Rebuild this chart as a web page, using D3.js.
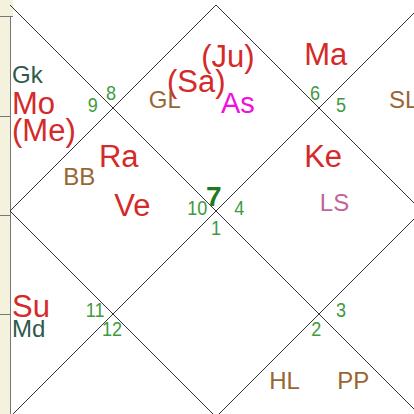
<!DOCTYPE html>
<html><head><meta charset="utf-8">
<script src="https://cdn.jsdelivr.net/npm/d3@7/dist/d3.min.js"></script>
<style>html,body{margin:0;padding:0;background:#fff;overflow:hidden}svg{display:block}</style>
</head><body>
<script>
// Data
const houses = [1,2,3,4,5,6,7,8,9,10,11,12];
const signs  = [7,8,9,10,11,12,1,2,3,4,5,6];   // sign number in each house
const ascHouseSign = 7;
const bodies  = ["Gk","Mo","(Me)","BB","Ra","Ve","Su","Md","(Sa)","(Ju)","As","GL","Ma","SL","Ke","LS","HL","PP"];
const bodyHouse = [3,3,3,4,4,4,5,5,1,1,1,1,12,11,10,10,8,8];
const bodyKind  = ["up","planet","planet","special","planet","planet","planet","up","planet","planet","asc","special","planet","special","planet","lagna","special","special"];

// layout (unit square coordinates, label anchor = left/baseline)
const bodyPos = {
  "Gk":[0.005,0.189],"Mo":[0.005,0.265],"(Me)":[0.005,0.330],
  "BB":[0.129,0.437],"Ra":[0.216,0.393],"Ve":[0.253,0.512],
  "Su":[0.005,0.757],"Md":[0.005,0.806],
  "(Sa)":[0.381,0.211],"(Ju)":[0.464,0.150],"As":[0.512,0.262],"GL":[0.337,0.250],
  "Ma":[0.714,0.146],"SL":[0.920,0.250],
  "Ke":[0.714,0.393],"LS":[0.752,0.500],
  "HL":[0.629,0.932],"PP":[0.794,0.932]
};
const signPos = {1:[0.476,0.488],2:[0.233,0.231],3:[0.189,0.260],4:[0.430,0.510],5:[0.184,0.757],6:[0.223,0.803],
  7:[0.488,0.558],8:[0.731,0.803],9:[0.791,0.757],10:[0.544,0.510],11:[0.791,0.260],12:[0.728,0.231]};
const kindStyle = {
  planet:{fill:"#d42a2a",size:31}, asc:{fill:"#f010e0",size:29},
  up:{fill:"#2d5a4c",size:24}, special:{fill:"#996633",size:24}, lagna:{fill:"#c0649a",size:24}
};

const W=414,H=414;
const svg=d3.select("body").append("svg").attr("width",W).attr("height",H);
// left panel background
svg.append("rect").attr("x",0).attr("y",0).attr("width",10).attr("height",H).attr("fill","#f4f1dc");
svg.append("rect").attr("x",0).attr("y",0).attr("width",13).attr("height",16).attr("fill","#f4f1dc");
svg.append("line").attr("x1",0).attr("x2",13).attr("y1",16.5).attr("y2",16.5).attr("stroke","#777");
svg.append("line").attr("x1",10.5).attr("x2",10.5).attr("y1",16).attr("y2",H).attr("stroke","#777");
[116,215,314].forEach(y=>svg.append("line").attr("x1",0).attr("x2",10).attr("y1",y+0.5).attr("y2",y+0.5).attr("stroke","#777"));

const sx=d3.scaleLinear().domain([0,1]).range([10,422]);
const sy=d3.scaleLinear().domain([0,1]).range([5,417]);
const line=d3.line().x(d=>sx(d[0])).y(d=>sy(d[1]));
const g=svg.append("g");
const paths=[
  [[0,0],[1,1]],[[1,0],[0,1]],
  [[0.5,0],[1,0.5],[0.5,1],[0,0.5],[0.5,0]]
];
paths.forEach(p=>g.append("path").attr("d",line(p)).attr("fill","none").attr("stroke","#333").attr("stroke-width",1));

const font="'Liberation Sans',Arial,sans-serif";
// sign numbers
g.selectAll("text.sign").data(houses).join("text").attr("class","sign")
  .attr("transform",h=>`translate(${sx(signPos[h][0])},${sy(signPos[h][1])}) scale(${signs[h-1]===ascHouseSign?1:0.88},1)`)
  .attr("font-family",font)
  .attr("font-size",h=>signs[h-1]===ascHouseSign?28:20.5)
  .attr("font-weight",h=>signs[h-1]===ascHouseSign?"bold":"normal")
  .attr("fill",h=>signs[h-1]===ascHouseSign?"#1f7a1f":"#3f9a3f")
  .text(h=>signs[h-1]);

// bodies
g.selectAll("text.body").data(bodies).join("text").attr("class","body")
  .attr("x",b=>sx(bodyPos[b][0])).attr("y",b=>sy(bodyPos[b][1]))
  .attr("font-family",font)
  .attr("font-size",(b,i)=>kindStyle[bodyKind[i]].size)
  .attr("fill",(b,i)=>kindStyle[bodyKind[i]].fill)
  .text(b=>b);
</script>
</body></html>
